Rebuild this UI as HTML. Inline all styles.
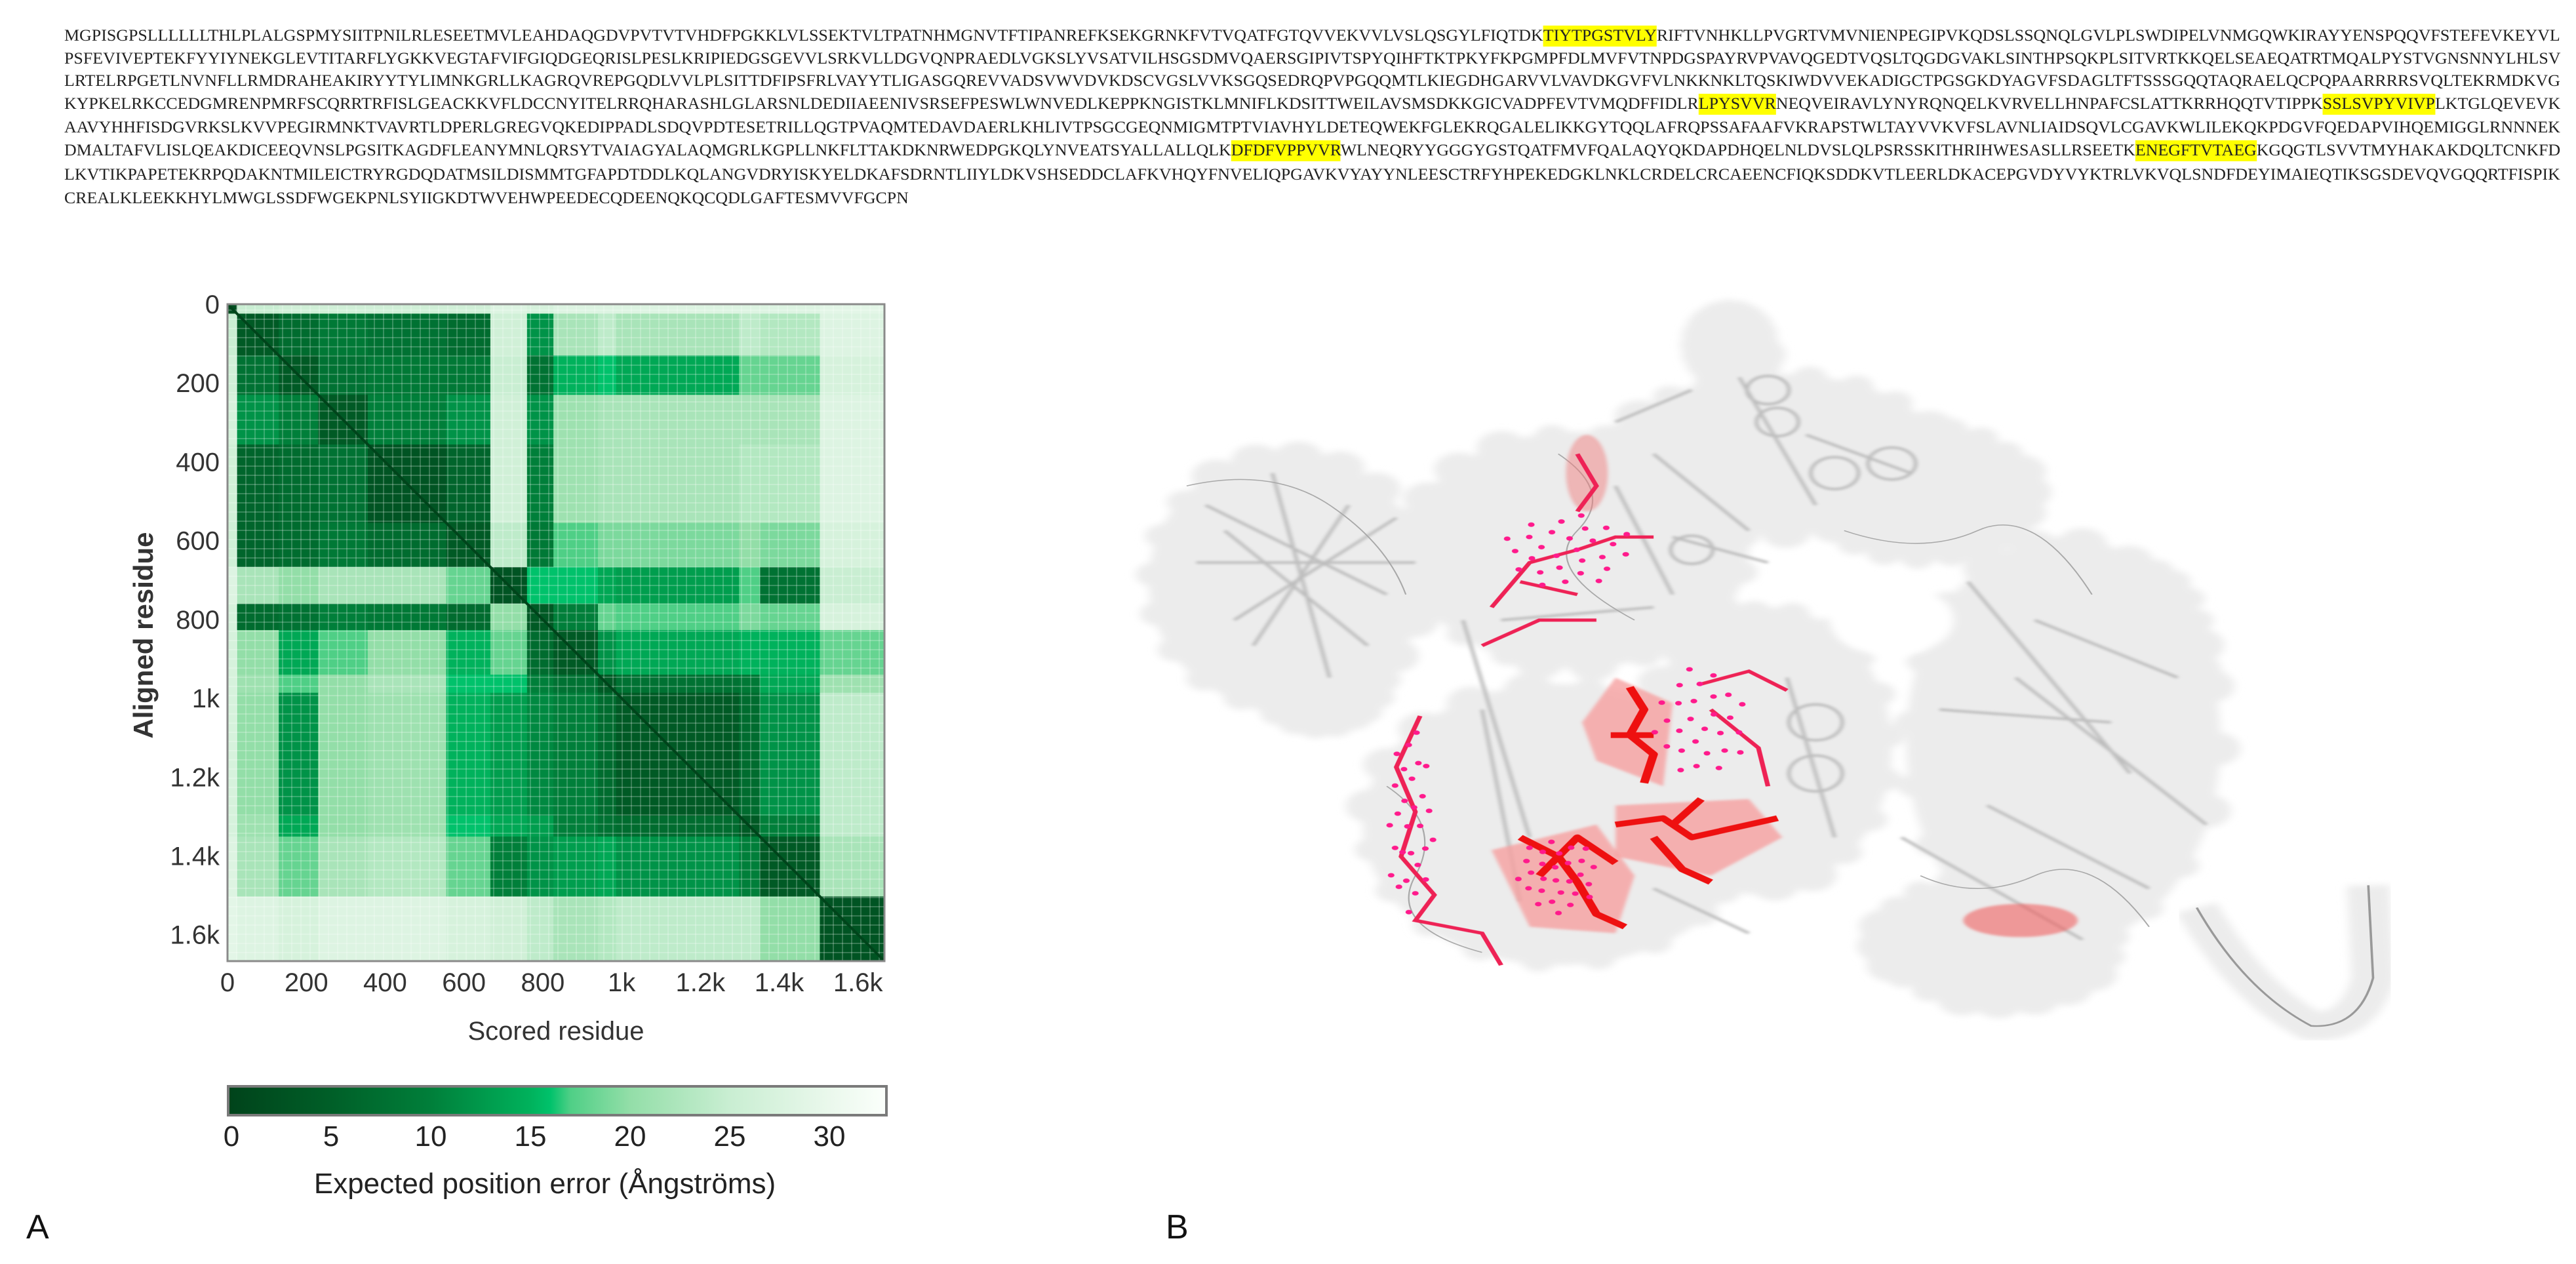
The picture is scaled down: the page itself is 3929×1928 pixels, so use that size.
<!DOCTYPE html>
<html><head><meta charset="utf-8">
<style>
html,body{margin:0;padding:0;background:#fff;}
#root{position:relative;width:3929px;height:1928px;overflow:hidden;background:#fff;}
.seq{position:absolute;left:98px;font-family:"Liberation Serif",serif;font-size:25px;line-height:25px;white-space:nowrap;color:#222;transform-origin:0 0;}
.hl{background:#ffff00;padding:2px 0 3px 0;}
.plabel{position:absolute;font-family:"Liberation Sans",sans-serif;font-size:52px;color:#111;}
</style></head>
<body>
<div id="root">
<div id="seqblock">
<div class="seq" data-w="3807" style="top:42px">MGPISGPSLLLLLLTHLPLALGSPMYSIITPNILRLESEETMVLEAHDAQGDVPVTVTVHDFPGKKLVLSSEKTVLTPATNHMGNVTFTIPANREFKSEKGRNKFVTVQATFGTQVVEKVVLVSLQSGYLFIQTDK<span class="hl">TIYTPGSTVLY</span>RIFTVNHKLLPVGRTVMVNIENPEGIPVKQDSLSSQNQLGVLPLSWDIPELVNMGQWKIRAYYENSPQQVFSTEFEVKEYVL</div>
<div class="seq" data-w="3807" style="top:77px">PSFEVIVEPTEKFYYIYNEKGLEVTITARFLYGKKVEGTAFVIFGIQDGEQRISLPESLKRIPIEDGSGEVVLSRKVLLDGVQNPRAEDLVGKSLYVSATVILHSGSDMVQAERSGIPIVTSPYQIHFTKTPKYFKPGMPFDLMVFVTNPDGSPAYRVPVAVQGEDTVQSLTQGDGVAKLSINTHPSQKPLSITVRTKKQELSEAEQATRTMQALPYSTVGNSNNYLHLSV</div>
<div class="seq" data-w="3807" style="top:111px">LRTELRPGETLNVNFLLRMDRAHEAKIRYYTYLIMNKGRLLKAGRQVREPGQDLVVLPLSITTDFIPSFRLVAYYTLIGASGQREVVADSVWVDVKDSCVGSLVVKSGQSEDRQPVPGQQMTLKIEGDHGARVVLVAVDKGVFVLNKKNKLTQSKIWDVVEKADIGCTPGSGKDYAGVFSDAGLTFTSSSGQQTAQRAELQCPQPAARRRRSVQLTEKRMDKVG</div>
<div class="seq" data-w="3807" style="top:146px">KYPKELRKCCEDGMRENPMRFSCQRRTRFISLGEACKKVFLDCCNYITELRRQHARASHLGLARSNLDEDIIAEENIVSRSEFPESWLWNVEDLKEPPKNGISTKLMNIFLKDSITTWEILAVSMSDKKGICVADPFEVTVMQDFFIDLR<span class="hl">LPYSVVR</span>NEQVEIRAVLYNYRQNQELKVRVELLHNPAFCSLATTKRRHQQTVTIPPK<span class="hl">SSLSVPYVIVP</span>LKTGLQEVEVK</div>
<div class="seq" data-w="3807" style="top:182px">AAVYHHFISDGVRKSLKVVPEGIRMNKTVAVRTLDPERLGREGVQKEDIPPADLSDQVPDTESETRILLQGTPVAQMTEDAVDAERLKHLIVTPSGCGEQNMIGMTPTVIAVHYLDETEQWEKFGLEKRQGALELIKKGYTQQLAFRQPSSAFAAFVKRAPSTWLTAYVVKVFSLAVNLIAIDSQVLCGAVKWLILEKQKPDGVFQEDAPVIHQEMIGGLRNNNEK</div>
<div class="seq" data-w="3807" style="top:217px">DMALTAFVLISLQEAKDICEEQVNSLPGSITKAGDFLEANYMNLQRSYTVAIAGYALAQMGRLKGPLLNKFLTTAKDKNRWEDPGKQLYNVEATSYALLALLQLK<span class="hl">DFDFVPPVVR</span>WLNEQRYYGGGYGSTQATFMVFQALAQYQKDAPDHQELNLDVSLQLPSRSSKITHRIHWESASLLRSEETK<span class="hl">ENEGFTVTAEG</span>KGQGTLSVVTMYHAKAKDQLTCNKFD</div>
<div class="seq" data-w="3807" style="top:254px">LKVTIKPAPETEKRPQDAKNTMILEICTRYRGDQDATMSILDISMMTGFAPDTDDLKQLANGVDRYISKYELDKAFSDRNTLIIYLDKVSHSEDDCLAFKVHQYFNVELIQPGAVKVYAYYNLEESCTRFYHPEKEDGKLNKLCRDELCRCAEENCFIQKSDDKVTLEERLDKACEPGVDYVYKTRLVKVQLSNDFDEYIMAIEQTIKSGSDEVQVGQQRTFISPIK</div>
<div class="seq" data-w="1288" style="top:290px">CREALKLEEKKHYLMWGLSSDFWGEKPNLSYIIGKDTWVEHWPEEDECQDEENQKQCQDLGAFTESMVVFGCPN</div>
</div>

<svg id="chart" width="3929" height="1928" style="position:absolute;left:0;top:0">
<defs>
<pattern id="tex" width="14" height="14" patternUnits="userSpaceOnUse">
<rect x="0" y="10" width="14" height="2" fill="#fff" opacity="0.22"/>
<rect x="10" y="0" width="2" height="14" fill="#fff" opacity="0.22"/>
</pattern>
<linearGradient id="cbgrad" x1="0" x2="1" y1="0" y2="0"></linearGradient>
</defs>
<g id="heat"></g>
<g id="axes"></g>
<g id="cbar"></g>
</svg>

<svg width="3929" height="1928" style="position:absolute;left:0;top:0">
<defs>
<filter id="blur6"><feGaussianBlur stdDeviation="5"/></filter>
<filter id="blur3"><feGaussianBlur stdDeviation="2"/></filter>
</defs>
<g transform="translate(1650,400) scale(1.4535,0.9747)">
<g id="surf" filter="url(#blur6)" fill="#ececec">
<ellipse cx="215" cy="500" rx="145" ry="200"/>
<ellipse cx="250" cy="640" rx="70" ry="90"/>
<ellipse cx="520" cy="450" rx="180" ry="185"/>
<ellipse cx="730" cy="300" rx="170" ry="125"/>
<ellipse cx="680" cy="130" rx="35" ry="55"/>
<ellipse cx="880" cy="360" rx="115" ry="105"/>
<ellipse cx="1030" cy="750" rx="165" ry="320"/>
<ellipse cx="500" cy="880" rx="205" ry="220"/>
<ellipse cx="720" cy="760" rx="130" ry="220"/>
<ellipse cx="960" cy="1060" rx="125" ry="100"/>
<ellipse cx="1110" cy="600" rx="65" ry="125"/>
</g>
<path d="M1170,1010 Q1220,1140 1290,1195 Q1340,1200 1355,1120 L1350,975" fill="none" stroke="#ececec" stroke-width="45" filter="url(#blur6)"/>
<path d="M1170,1010 Q1220,1140 1290,1195 Q1340,1200 1355,1120 L1350,975" fill="none" stroke="#999" stroke-width="2.5"/>
<ellipse cx="850" cy="560" rx="65" ry="55" fill="#fff" filter="url(#blur6)"/>
<g fill="none" stroke="#bdbdbd" stroke-width="4" filter="url(#blur3)">
<path d="M130,380 L320,520 M160,560 L330,400 M200,330 L260,650 M120,470 L350,470 M150,420 L300,600 M180,600 L280,380"/>
<path d="M690,180 L770,380 M760,270 L870,330 M620,430 L720,470 M400,560 L470,900 M560,250 L640,200 M600,300 L700,420"/>
<path d="M930,500 L1100,800 M950,850 L1120,980 M980,650 L1180,880 M860,900 L1050,1060 M900,700 L1080,720 M1000,560 L1150,650"/>
<path d="M440,560 L600,540 M740,650 L790,900 M560,350 L620,520 M420,700 L460,1000 M600,980 L700,1050"/>
<circle cx="850" cy="315" r="25"/><circle cx="790" cy="330" r="25"/><circle cx="640" cy="450" r="22"/><circle cx="770" cy="720" r="28"/><circle cx="770" cy="800" r="28"/><circle cx="720" cy="200" r="22"/><circle cx="730" cy="250" r="22"/>
</g>
<g fill="none" stroke="#a8a8a8" stroke-width="1.5">
<path d="M110,350 Q200,320 260,380 T340,520 M500,300 Q560,360 520,420 T580,560 M800,420 Q880,460 940,420 T1060,520 M880,960 Q940,1000 1000,960 T1120,1040 M320,820 Q380,880 350,960 T420,1080"/>
</g>
<g filter="url(#blur3)">
<path d="M560,650 L620,690 L610,820 L540,780 L525,720 Z" fill="#f6a0a0" opacity="0.8"/>
<path d="M560,850 L700,840 L735,900 L660,960 L560,930 Z" fill="#f6a0a0" opacity="0.8"/>
<path d="M430,920 L540,880 L580,960 L560,1050 L470,1040 Z" fill="#f6a0a0" opacity="0.8"/>
<ellipse cx="985" cy="1030" rx="60" ry="26" fill="#f06060" opacity="0.6"/>
<ellipse cx="530" cy="330" rx="22" ry="60" fill="#f08080" opacity="0.5"/>
</g>
<g fill="none" stroke="#ee1010" stroke-width="9" stroke-linejoin="round">
<path d="M575,665 L590,700 L575,740 L600,770 L590,815 M555,740 L600,740"/>
<path d="M560,880 L610,870 L640,900 L700,880 L730,870 M600,900 L630,950 L660,970 M620,880 L650,840"/>
<path d="M460,900 L500,930 L520,970 L540,1020 L570,1040 M480,960 L520,900 L560,940"/>
</g>
<g fill="none" stroke="#ee2255" stroke-width="5">
<path d="M355,710 L330,790 L350,860 L335,930 L370,990 L350,1030 L420,1050 L440,1100"/>
<path d="M430,540 L470,470 L520,450 L560,430 L600,430 M420,600 L480,560 L540,560 M460,500 L520,520 M520,300 L540,350 L520,390"/>
<path d="M650,660 L700,640 L740,670 M660,700 L710,760 L720,820"/>
</g>
<g id="dots" fill="#ff1a8c"></g>
</g>
</svg>

<div class="plabel" style="left:40px;top:1842px">A</div>
<div class="plabel" style="left:1778px;top:1842px">B</div>
</div>

<script>
document.querySelectorAll('.seq').forEach(function(d){
  var w=d.scrollWidth; var t=+d.getAttribute('data-w');
  d.style.transform='scaleX('+(t/w)+')';
});

// ---- PAE data ----
var segBounds=[0,24,130,230,356,555,667,760,827,940,986,1298,1351,1503,1667];
var paeRows=[
[2,25,26,26,26,26,28,27,28,28,28,28,28,29],
[25,4,7,9,8,7,26,12,22,24,22,24,23,28],
[26,8,4,8,9,9,25,8,15,16,14,18,18,27],
[27,12,10,4,10,12,26,12,21,22,22,22,22,28],
[26,6,7,8,3,6,26,10,21,22,22,23,23,28],
[26,6,7,9,7,4,24,9,17,19,19,20,19,27],
[28,22,20,22,22,18,3,16,16,14,13,17,8,25],
[27,7,8,10,9,7,20,4,10,18,17,19,18,27],
[27,20,14,17,20,15,18,7,4,12,14,15,15,18],
[27,21,17,20,22,16,16,10,8,4,8,9,14,21],
[27,20,12,20,21,15,13,11,10,7,4,7,12,24],
[27,21,14,20,21,16,14,13,10,8,7,4,10,24],
[28,22,18,22,23,18,10,12,13,14,12,10,4,22],
[29,28,27,28,28,27,26,24,22,23,24,24,20,3]
];
var axisTicks=[0,200,400,600,800,1000,1200,1400,1600];
var axisTickLabels=['0','200','400','600','800','1k','1.2k','1.4k','1.6k'];
var cbTicks=[0,5,10,15,20,25,30];
var cbStopVals=[0,5,10,15,16,17,20,25,30,32.8];
var cbStopCols=['#00441b','#005f28','#007f3a','#00b25c','#00c26b','#4fcf86','#93dea8','#c9eed2','#eaf8ec','#fbfffb'];

var NS='http://www.w3.org/2000/svg';
var HX0=347,HY0=464,HS=1002,NRES=1667;
function sx(r){return HX0+r/NRES*HS;}
function sy(r){return HY0+r/NRES*HS;}
var CB0=353,CB30=1265;
function cx(v){return CB0+v*(CB30-CB0)/30;}
function hex(h){return [parseInt(h.substr(1,2),16),parseInt(h.substr(3,2),16),parseInt(h.substr(5,2),16)];}
function cmap(v){
  for(var i=0;i<cbStopVals.length-1;i++){
    if(v<=cbStopVals[i+1]){
      var t=(v-cbStopVals[i])/(cbStopVals[i+1]-cbStopVals[i]);
      var a=hex(cbStopCols[i]),b=hex(cbStopCols[i+1]);
      return 'rgb('+Math.round(a[0]+(b[0]-a[0])*t)+','+Math.round(a[1]+(b[1]-a[1])*t)+','+Math.round(a[2]+(b[2]-a[2])*t)+')';
    }
  }
  return cbStopCols[cbStopCols.length-1];
}
function mk(tag,attrs,parent){var e=document.createElementNS(NS,tag);for(var k in attrs)e.setAttribute(k,attrs[k]);parent.appendChild(e);return e;}

var heat=document.getElementById('heat');
for(var r=0;r<paeRows.length;r++){
  for(var c=0;c<paeRows[r].length;c++){
    var x0=sx(segBounds[c]),x1=sx(segBounds[c+1]),y0=sy(segBounds[r]),y1=sy(segBounds[r+1]);
    var cell=mk('rect',{x:x0,y:y0,width:x1-x0+0.6,height:y1-y0+0.6,fill:cmap(paeRows[r][c])},heat);
    
    
  }
}
var tex=mk('rect',{x:HX0,y:HY0,width:HS,height:HS,fill:'url(#tex)'},heat);


var diag=mk('line',{x1:sx(0),y1:sy(0),x2:sx(NRES),y2:sy(NRES),stroke:'#00441b','stroke-width':4},heat);


var brd=mk('rect',{x:HX0,y:HY0,width:HS,height:HS,fill:'none',stroke:'#8a8a8a','stroke-width':3},heat);



var axes=document.getElementById('axes');
for(var i=0;i<axisTicks.length;i++){
  var ty=mk('text',{x:335,y:sy(axisTicks[i])+14,'text-anchor':'end','font-family':'Liberation Sans, sans-serif','font-size':40,fill:'#333'},axes);
  ty.textContent=axisTickLabels[i];
  
  
  var tx=mk('text',{x:sx(axisTicks[i]),y:1512,'text-anchor':'middle','font-family':'Liberation Sans, sans-serif','font-size':40,fill:'#333'},axes);
  tx.textContent=axisTickLabels[i];
  
  
}
var xt=mk('text',{x:848,y:1586,'text-anchor':'middle','font-family':'Liberation Sans, sans-serif','font-size':40,fill:'#333'},axes);
xt.textContent='Scored residue';


var yt=mk('text',{x:0,y:0,'text-anchor':'middle','font-family':'Liberation Sans, sans-serif','font-size':42,'font-weight':'bold',fill:'#333',transform:'translate(233,969) rotate(-90)'},axes);
yt.textContent='Aligned residue';



var grad=document.getElementById('cbgrad');
var cbLeft=348,cbRight=1352;
for(var i=0;i<cbStopVals.length;i++){
  var off=(cx(cbStopVals[i])-cbLeft)/(cbRight-cbLeft);
  mk('stop',{offset:Math.max(0,Math.min(1,off)),'stop-color':cbStopCols[i]},grad);
}
var cb=document.getElementById('cbar');
var cbr=mk('rect',{x:cbLeft,y:1657,width:cbRight-cbLeft,height:44,fill:'url(#cbgrad)',stroke:'#7a7a7a','stroke-width':4},cb);


for(var i=0;i<cbTicks.length;i++){
  var t=mk('text',{x:cx(cbTicks[i]),y:1748,'text-anchor':'middle','font-family':'Liberation Sans Narrow, Liberation Sans, sans-serif','font-size':44,fill:'#222'},cb);
  t.textContent=String(cbTicks[i]);
  
  
}
var ct=mk('text',{x:831,y:1820,'text-anchor':'middle','font-family':'Liberation Sans Narrow, Liberation Sans, sans-serif','font-size':44,fill:'#222'},cb);
ct.textContent='Expected position error (Ångströms)';



// ---- decorative surface bumps and atom dots (structure illustration) ----
var surf=document.getElementById('surf');
var ells=Array.prototype.slice.call(surf.querySelectorAll('ellipse'));
ells.forEach(function(e,k){
  var ex=+e.getAttribute('cx'),ey=+e.getAttribute('cy'),rx=+e.getAttribute('rx'),ry=+e.getAttribute('ry');
  for(var a=0;a<6.283;a+=0.32){
    var b=mk('circle',{cx:ex+Math.cos(a+k)*rx*0.97,cy:ey+Math.sin(a+k)*ry*0.97,r:(k+Math.round(a*10))%3===0?26:18},surf);
    
    
  }
});
var dots=document.getElementById('dots');
var dotCenters=[[510,450,70,60],[650,720,50,90],[500,960,45,60],[345,880,25,150]];
dotCenters.forEach(function(dc,k){
  for(var i=0;i<28;i++){
    var ang=i*2.39996+k, rr=Math.sqrt((i+0.5)/28);
    var d=mk('circle',{cx:dc[0]+Math.cos(ang)*rr*dc[2],cy:dc[1]+Math.sin(ang)*rr*dc[3],r:3.5},dots);
    
    
  }
});
</script>
</body></html>
